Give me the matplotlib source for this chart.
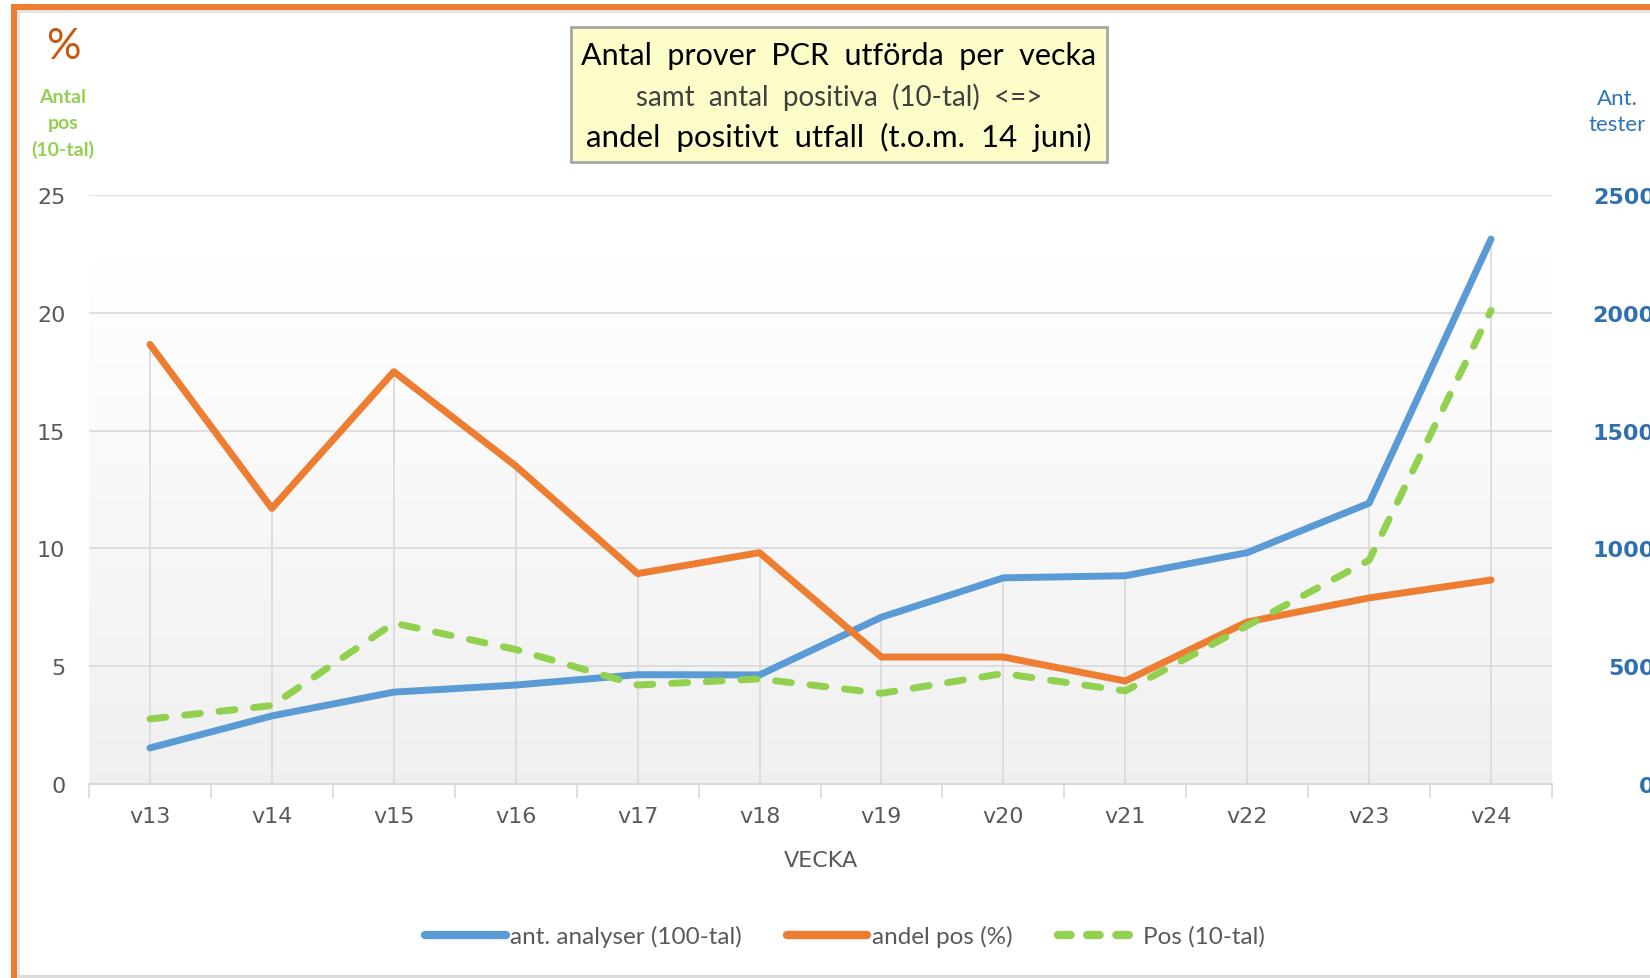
import matplotlib
matplotlib.use("Agg")
import matplotlib.pyplot as plt
import numpy as np
from matplotlib.lines import Line2D
from matplotlib.patches import Rectangle

weeks = ['v13', 'v14', 'v15', 'v16', 'v17', 'v18', 'v19', 'v20', 'v21', 'v22', 'v23', 'v24']
analyser = [153, 289, 390, 420, 464, 463, 708, 875, 884, 982, 1192, 2313]   # ant. tester
andel = [18.66, 11.7, 17.5, 13.5, 8.93, 9.82, 5.39, 5.39, 4.37, 6.88, 7.9, 8.66]  # %
pos10 = [2.76, 3.33, 6.83, 5.71, 4.2, 4.46, 3.85, 4.69, 3.95, 6.72, 9.5, 20.1]    # 10-tal

left_ticks = [0, 5, 10, 15, 20, 25]
right_ticks = [0, 500, 1000, 1500, 2000, 2500]

BLUE = '#5b9bd5'
ORANGE = '#ed7d31'
GREEN = '#92d050'
GRID = '#d9d9d9'
TXT = '#595959'

fig = plt.figure(figsize=(16.5, 9.79), dpi=100)
W, H = 1650.0, 979.0

def fx(px):
    return px / W

def fy(py):
    return 1 - py / H

# frame: orange top/left, grey bottom
fig.add_artist(Rectangle((fx(11), fy(11)), 1, 6 / H, transform=fig.transFigure, color=ORANGE, lw=0))
fig.add_artist(Rectangle((fx(17), fy(14)), 1, 3 / H, transform=fig.transFigure, color='#e4e4e4', lw=0))
fig.add_artist(Rectangle((fx(11), 0), 6 / W, fy(5), transform=fig.transFigure, color=ORANGE, lw=0))
fig.add_artist(Rectangle((fx(17), 0), 3 / W, fy(14), transform=fig.transFigure, color='#e4e4e4', lw=0))
fig.add_artist(Rectangle((fx(17), 0), 1, 3 / H, transform=fig.transFigure, color='#dcdcdc', lw=0))

rect = [fx(89), fy(785), fx(1552) - fx(89), fy(196) - fy(785)]
ax2 = fig.add_axes(rect)            # bottom layer: background, grid, blue
ax = ax2.twinx()                    # top layer: orange, green, left axis
ax.patch.set_visible(False)
x = np.arange(len(weeks))

ax2.set_xlim(-0.5, len(weeks) - 0.5)
ax2.set_ylim(0, 2500)
grad = np.linspace(0.0, 1.0, 256).reshape(-1, 1, 1)
top_c = np.array([1.0, 1.0, 1.0])
bot_c = np.array([0.94, 0.94, 0.94])
img = top_c * (1 - grad) + bot_c * grad
ax2.imshow(img, extent=(-0.5, len(weeks) - 0.5, 0, 2220), aspect='auto', zorder=0, origin='upper')
for t in right_ticks[1:]:
    ax2.axhline(t, color=GRID, lw=1.2, zorder=1)
# drop lines from the highest point of each week
tops = [max(a / 100, o, g) * 100 for a, o, g in zip(analyser, andel, pos10)]
ax2.vlines(x, 0, tops, color=GRID, lw=1.2, zorder=1)
ax2.plot(x, analyser, color=BLUE, lw=5, solid_capstyle='round', solid_joinstyle='round', zorder=3)
ax2.set_yticks(right_ticks)
ax2.yaxis.tick_right()
ax2.tick_params(axis='y', length=0, pad=74, labelsize=16, labelcolor='#2e70b0')
for lab in ax2.get_yticklabels():
    lab.set_horizontalalignment('right')
    lab.set_fontweight('bold')
for s in ax2.spines.values():
    s.set_visible(False)

ax.set_ylim(0, 25)
ax.plot(x, andel, color=ORANGE, lw=5, solid_capstyle='round', solid_joinstyle='round', zorder=4)
ax.plot(x, pos10, color=GREEN, lw=5, dashes=(2.3, 2.7), dash_capstyle='round', zorder=5)
ax.yaxis.tick_left()
ax.set_yticks(left_ticks)
ax.tick_params(axis='y', length=0, pad=17, labelsize=16, labelcolor=TXT)
for s in ax.spines.values():
    s.set_visible(False)
ax.spines['bottom'].set_visible(True)
ax.spines['bottom'].set_color(GRID)
ax.spines['bottom'].set_linewidth(1.5)

ax2.set_xticks(x)
ax2.set_xticklabels(weeks)
ax2.set_xticks(np.arange(-0.5, len(weeks)), minor=True)
ax2.tick_params(axis='x', which='major', length=0, pad=16, labelsize=16, labelcolor=TXT)
ax2.tick_params(axis='x', which='minor', length=10, width=1.2, color=GRID)
ax.tick_params(axis='x', which='both', bottom=False, labelbottom=False)

fig.text(fx(821), fy(861), 'VECKA', ha='center', va='center', fontsize=16, color=TXT)

# title box
fig.add_artist(Rectangle((fx(571), fy(163)), fx(1107) - fx(571), fy(28) - fy(163),
                         transform=fig.transFigure, facecolor='#fdfdca', edgecolor='#a6a6a6', lw=2))
fig.text(fx(839), fy(56), 'Antal  prover  PCR  utförda  per  vecka', ha='center', va='center',
         fontsize=22, color='black', family='Lato')
fig.text(fx(839), fy(97), 'samt  antal  positiva  (10-tal)  <=>', ha='center', va='center',
         fontsize=20, color='#404040', family='Lato')
fig.text(fx(839), fy(137), 'andel  positivt  utfall  (t.o.m.  14  juni)', ha='center', va='center',
         fontsize=22.5, color='black', family='Lato')

fig.text(fx(63), fy(47), '%', ha='center', va='center', fontsize=31, color='#c55a11', family='Lato')
fig.text(fx(63), fy(124), 'Antal\npos\n(10-tal)', ha='center', va='center', fontsize=14,
         color=GREEN, fontweight='bold', family='Lato', linespacing=1.6)
fig.text(fx(1617), fy(112), 'Ant.\ntester', ha='center', va='center', fontsize=16,
         color='#2e75b6', family='Lato', linespacing=1.4)

handles = [Line2D([], [], color=BLUE, lw=6, solid_capstyle='round'),
           Line2D([], [], color=ORANGE, lw=6, solid_capstyle='round'),
           Line2D([], [], color=GREEN, lw=6, dashes=(1.5, 2.0), dash_capstyle='round')]
fig.legend(handles, ['ant. analyser (100-tal)', 'andel pos (%)', 'Pos (10-tal)'],
           loc='center', bbox_to_anchor=(fx(845), fy(937)), ncol=3, frameon=False,
           handlelength=3.3, handletextpad=0.2, columnspacing=1.85,
           prop={'family': 'Lato', 'size': 17.5}, labelcolor=TXT)

fig.savefig('out.png', dpi=100)
